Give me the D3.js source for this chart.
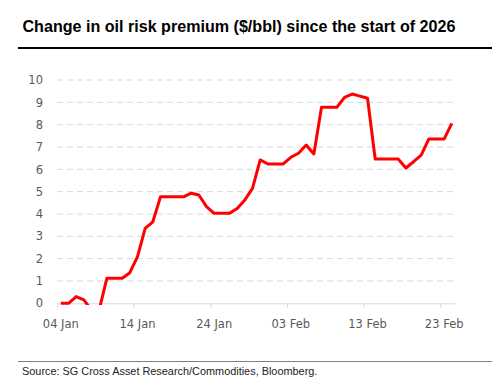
<!DOCTYPE html>
<html>
<head>
<meta charset="utf-8">
<script src="https://cdn.jsdelivr.net/npm/d3@7"></script>
<style>
html,body{margin:0;padding:0;background:#fff;}
svg{display:block;}
</style>
</head>
<body>
<svg id="chart" width="497" height="391"></svg>
<script>
// Data: daily values from 04 Jan 2026 to 24 Feb 2026
const startDate = "2026-01-04";
const values = [
  0, 0, 0.3, 0.15, -0.3, -0.3, 1.12, 1.12, 1.12, 1.37,
  2.09, 3.36, 3.65, 4.77, 4.77, 4.77, 4.77, 4.93, 4.85, 4.33,
  4.03, 4.03, 4.03, 4.25, 4.63, 5.15, 6.42, 6.24, 6.24, 6.24,
  6.54, 6.72, 7.09, 6.69, 8.78, 8.78, 8.78, 9.22, 9.37, 9.28,
  9.18, 6.46, 6.46, 6.46, 6.46, 6.06, 6.34, 6.64, 7.36, 7.36,
  7.36, 8.06
];
const yTicks = [0,1,2,3,4,5,6,7,8,9,10];
const xTickLabels = ["04 Jan","14 Jan","24 Jan","03 Feb","13 Feb","23 Feb"];
const title = "Change in oil risk premium ($/bbl) since the start of 2026";
const source = "Source: SG Cross Asset Research/Commodities, Bloomberg.";

const parse = d3.timeParse("%Y-%m-%d");
const t0 = parse(startDate);
const DAY = 86400000;
const data = values.map((v,i)=>({date:new Date(t0.getTime()+i*DAY), value:v}));
const tEnd = new Date(t0.getTime() + 52*DAY);

const svg = d3.select("#chart");

// Title
svg.append("text")
  .attr("x", 22.5).attr("y", 32)
  .attr("font-family", "Liberation Sans, Arial, sans-serif")
  .attr("font-weight", "bold")
  .attr("font-size", "16.1px")
  .attr("fill", "#000")
  .text(title);
svg.append("line")
  .attr("x1", 18).attr("x2", 492).attr("y1", 48).attr("y2", 48)
  .attr("stroke", "#000").attr("stroke-width", 2);

// Scales
const x = d3.scaleTime().domain([t0, tEnd]).range([57, 455.7]);
const y = d3.scaleLinear().domain([0, 10]).range([303.3, 80]);

// Gridlines
svg.append("g").selectAll("line").data(yTicks.filter(d=>d>0)).join("line")
  .attr("x1", 57).attr("x2", 455.7)
  .attr("y1", d=>y(d)).attr("y2", d=>y(d))
  .attr("stroke", "#d9d9d9").attr("stroke-width", 1)
  .attr("stroke-dasharray", "6,4");

// Y axis labels
const yAxis = d3.axisLeft(y).tickValues(yTicks).tickSize(0).tickPadding(14);
const gy = svg.append("g").attr("transform", "translate(57,0)").call(yAxis);
gy.select(".domain").remove();
gy.selectAll("text")
  .attr("font-family", "DejaVu Sans, sans-serif")
  .attr("font-size", "11.5px")
  .attr("fill", "#595959");

// X axis
const tickDates = xTickLabels.map((_,i)=>new Date(t0.getTime()+i*10*DAY));
const xAxis = d3.axisBottom(x).tickValues(tickDates).tickSize(5).tickFormat(()=>"");
const gx = svg.append("g").attr("transform", "translate(0,303.3)").call(xAxis);
gx.select(".domain").attr("stroke", "#d9d9d9").attr("d", "M57,0.5H455.7");
gx.selectAll(".tick line").attr("stroke", "#d9d9d9");
// Labels centered on day centre
svg.append("g").selectAll("text").data(xTickLabels).join("text")
  .attr("x", (d,i)=>x(new Date(tickDates[i].getTime()+DAY/2)))
  .attr("y", 327.5)
  .attr("text-anchor", "middle")
  .attr("font-family", "DejaVu Sans, sans-serif")
  .attr("font-size", "11.5px")
  .attr("fill", "#595959")
  .text(d=>d);

// Clip
svg.append("clipPath").attr("id","plotclip").append("rect")
  .attr("x", 50).attr("y", 70).attr("width", 420).attr("height", 305-70);

// Line
const line = d3.line()
  .x(d=>x(new Date(d.date.getTime()+DAY/2)))
  .y(d=>y(d.value));
svg.append("path")
  .datum(data)
  .attr("clip-path", "url(#plotclip)")
  .attr("d", line)
  .attr("fill", "none")
  .attr("stroke", "#ff0000")
  .attr("stroke-width", 3)
  .attr("stroke-linejoin", "round");

// Source
svg.append("line")
  .attr("x1", 18).attr("x2", 492).attr("y1", 361.5).attr("y2", 361.5)
  .attr("stroke", "#808080").attr("stroke-width", 1);
svg.append("text")
  .attr("x", 22).attr("y", 375)
  .attr("font-family", "Liberation Sans, Arial, sans-serif")
  .attr("font-size", "10.9px")
  .attr("fill", "#222")
  .text(source);
</script>
</body>
</html>
